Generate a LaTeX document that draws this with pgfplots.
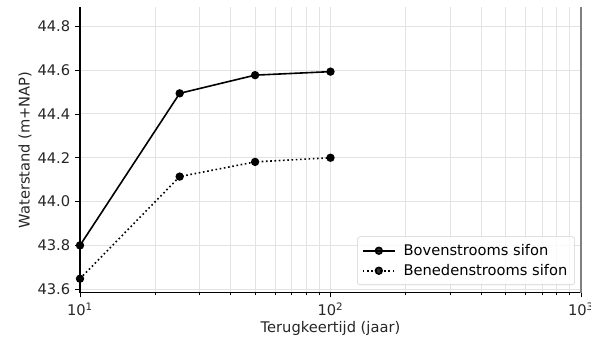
\documentclass[border=0pt]{standalone}
\usepackage{pgfplots}
\pgfplotsset{compat=1.18}
\usepackage{fontspec}
\setmainfont{DejaVu Sans}
\definecolor{gridc}{HTML}{E3E3E3}
\definecolor{tickc}{HTML}{262626}
\begin{document}
\fontsize{11}{13}\selectfont
\begin{tikzpicture}
\begin{axis}[
  scale only axis,
  width=375.75pt, height=214.3pt,
  xmode=log,
  xmin=10, xmax=1000,
  ymin=43.584, ymax=44.888,
  xtick={10,100,1000},
  xticklabels={10\textsuperscript{1},10\textsuperscript{2},10\textsuperscript{3}},
  minor xtick={20,30,40,50,60,70,80,90,200,300,400,500,600,700,800,900},
  ytick={43.6,43.8,44.0,44.2,44.4,44.6,44.8},
  yticklabel style={/pgf/number format/fixed,/pgf/number format/fixed zerofill,/pgf/number format/precision=1,/pgf/number format/assume math mode=true},
  axis lines*=left,
  axis line style={-,black,line width=0.8pt},
  tick align=outside,
  major tick length=3.5pt,
  minor tick length=2pt,
  tick style={black,line width=0.6pt},
  grid=both,
  major grid style={gridc,line width=0.75pt},
  minor grid style={gridc,line width=0.6pt},
  ymajorgrids=true, yminorgrids=false,
  ticklabel style={font=\fontsize{11}{13}\selectfont,text=tickc},
  label style={font=\fontsize{11}{13}\selectfont,text=tickc},
  xlabel={Terugkeertijd (jaar)},
  ylabel={Waterstand (m+NAP)},
  xlabel style={yshift=3pt},
  ylabel style={yshift=-3pt},
  legend style={at={(0.988,0.027)},anchor=south east,draw=gray!35,rounded corners=2pt,fill=white,fill opacity=0.8,text opacity=1,font=\fontsize{11}{13}\selectfont,row sep=1pt,column sep=4pt,inner sep=3.5pt},
  legend cell align=left,
  legend image code/.code={
    \draw[#1,mark repeat=2,mark phase=2] plot coordinates {(0cm,0cm) (0.42cm,0cm) (0.84cm,0cm)};
  },
  clip=false,
]
\addplot[black,line width=1.2pt,mark=*,mark size=2.5pt] coordinates {
  (10,43.800) (25,44.494) (50,44.577) (100,44.593)
};
\addlegendentry{Bovenstrooms sifon}
\addplot[black,line width=1.2pt,dash pattern=on 1.2pt off 2pt,mark=*,mark size=2.5pt,mark options={solid}] coordinates {
  (10,43.648) (25,44.114) (50,44.181) (100,44.200)
};
\addlegendentry{Benedenstrooms sifon}
\draw[gray,line width=0.8pt] (rel axis cs:1,0) -- (rel axis cs:1,1);
\coordinate (bl) at (rel axis cs:-0.1597,-0.1726);
\coordinate (tr) at (rel axis cs:1.0200,1.0245);
\end{axis}
\pgfresetboundingbox
\useasboundingbox (bl) rectangle (tr);
\end{tikzpicture}
\end{document}
